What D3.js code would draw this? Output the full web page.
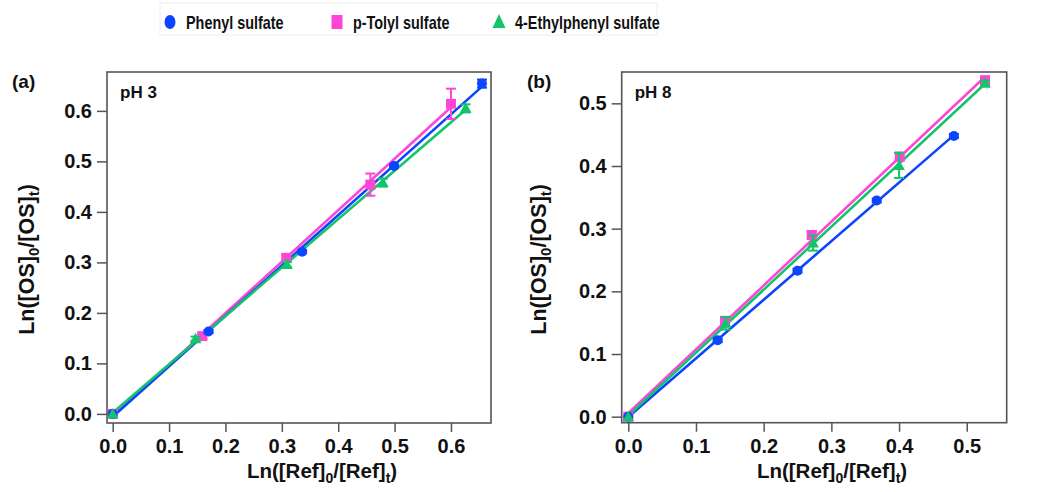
<!DOCTYPE html>
<html><head><meta charset="utf-8">
<script src="https://cdn.jsdelivr.net/npm/d3@7"></script>
<style>
body{margin:0;background:#fff;}
svg{display:block;font-family:"Liberation Sans",Arial,sans-serif;font-weight:bold;}
</style></head>
<body><svg id="c" width="1039" height="492"></svg>
<script>
// ---- data ----
const seriesNames = ["Phenyl sulfate", "p-Tolyl sulfate", "4-Ethylphenyl sulfate"];
const seriesColors = ["#0b45ff", "#ff45d6", "#12c46a"];
const seriesShapes = ["circle", "square", "triangle"];

// panel (a) pH 3
const phenylA_x = [0, 0.170, 0.336, 0.499, 0.655];
const phenylA_y = [0, 0.163, 0.321, 0.491, 0.654];
const phenylA_e = [0, 0.003, 0.003, 0.003, 0.008];
const tolylA_x  = [0, 0.159, 0.308, 0.457, 0.600];
const tolylA_y  = [0, 0.154, 0.309, 0.454, 0.614];
const tolylA_e  = [0, 0.005, 0.005, 0.022, 0.030];
const ethylA_x  = [0, 0.147, 0.309, 0.479, 0.626];
const ethylA_y  = [0, 0.149, 0.296, 0.458, 0.605];
const ethylA_e  = [0, 0.004, 0.005, 0.008, 0.008];

// panel (b) pH 8
const phenylB_x = [0, 0.132, 0.250, 0.367, 0.481];
const phenylB_y = [0, 0.122, 0.233, 0.345, 0.448];
const phenylB_e = [0, 0.003, 0.003, 0.003, 0.003];
const tolylB_x  = [0, 0.143, 0.271, 0.401, 0.527];
const tolylB_y  = [0, 0.153, 0.290, 0.415, 0.537];
const tolylB_e  = [0, 0.004, 0.006, 0.006, 0.003];
const ethylB_x  = [0, 0.144, 0.273, 0.400, 0.527];
const ethylB_y  = [0, 0.149, 0.277, 0.401, 0.532];
const ethylB_e  = [0, 0.010, 0.012, 0.020, 0.004];

const xTicksA = [0, 0.1, 0.2, 0.3, 0.4, 0.5, 0.6];
const yTicksA = [0, 0.1, 0.2, 0.3, 0.4, 0.5, 0.6];
const xTicksB = [0, 0.1, 0.2, 0.3, 0.4, 0.5];
const yTicksB = [0, 0.1, 0.2, 0.3, 0.4, 0.5];
const xDomainA = [-0.0101, 0.671], yDomainA = [-0.018, 0.677];
const xDomainB = [-0.0097, 0.559], yDomainB = [-0.0096, 0.55];

const svg = d3.select("#c");

function zip(xs, ys, es){ return xs.map((x,i)=>({x, y:ys[i], e:es[i]})); }
function fit(pts){
  const mx = d3.mean(pts, d=>d.x), my = d3.mean(pts, d=>d.y);
  const sxy = d3.sum(pts, d=>(d.x-mx)*(d.y-my)), sxx = d3.sum(pts, d=>(d.x-mx)*(d.x-mx));
  const b = sxy/sxx, a = my - b*mx;
  return x => a + b*x;
}
function marker(g, shape, color, cx, cy, s){
  if (shape === "circle") g.append("circle").attr("cx", cx).attr("cy", cy).attr("r", s*0.5).attr("fill", color);
  else if (shape === "square") g.append("rect").attr("x", cx-s*0.5).attr("y", cy-s*0.5).attr("width", s).attr("height", s).attr("fill", color);
  else g.append("path").attr("d", `M${cx},${cy-s*0.6}L${cx+s*0.58},${cy+s*0.45}L${cx-s*0.58},${cy+s*0.45}Z`).attr("fill", color);
}

function panel(cfg){
  const x = d3.scaleLinear().domain(cfg.xDomain).range([cfg.left, cfg.right]);
  const y = d3.scaleLinear().domain(cfg.yDomain).range([cfg.bottom, cfg.top]);
  const g = svg.append("g");
  const xa = g.append("g").attr("transform", `translate(0,${cfg.bottom})`)
    .call(d3.axisBottom(x).tickValues(cfg.xTicks).tickFormat(d3.format(".1f")).tickSize(9).tickPadding(7));
  const ya = g.append("g").attr("transform", `translate(${cfg.left},0)`)
    .call(d3.axisLeft(y).tickValues(cfg.yTicks).tickFormat(d3.format(".1f")).tickSize(10).tickPadding(5));
  [xa, ya].forEach(a => {
    a.select(".domain").remove();
    a.selectAll("line").attr("stroke", "#555").attr("stroke-width", 1.5);
    a.selectAll("text").attr("font-size", 20).attr("font-weight", "bold").attr("fill", "#111")
      .attr("font-family", "'Liberation Sans',Arial,sans-serif");
  });
  g.append("rect").attr("x", cfg.left).attr("y", cfg.top)
    .attr("width", cfg.right-cfg.left).attr("height", cfg.bottom-cfg.top)
    .attr("fill", "none").attr("stroke", "#555").attr("stroke-width", 1.6);
  const order = [1, 0, 2];
  order.forEach(i => {
    const pts = cfg.series[i];
    const f = fit(pts);
    const x0 = d3.min(pts, d=>d.x), x1 = d3.max(pts, d=>d.x);
    g.append("line").attr("x1", x(x0)).attr("y1", y(f(x0))).attr("x2", x(x1)).attr("y2", y(f(x1)))
      .attr("stroke", seriesColors[i]).attr("stroke-width", 2.6);
  });
  order.forEach(i => {
    const pts = cfg.series[i];
    pts.forEach(d => {
      if (d.e > 0) {
        const cx = x(d.x), yt = y(d.y + d.e), yb = y(d.y - d.e);
        g.append("line").attr("x1", cx).attr("x2", cx).attr("y1", yt).attr("y2", yb)
          .attr("stroke", seriesColors[i]).attr("stroke-width", 2);
        [yt, yb].forEach(yy => g.append("line").attr("x1", cx-5).attr("x2", cx+5).attr("y1", yy).attr("y2", yy)
          .attr("stroke", seriesColors[i]).attr("stroke-width", 2));
      }
      marker(g, seriesShapes[i], seriesColors[i], x(d.x), y(d.y), 10);
    });
  });
  g.append("text").attr("x", cfg.tagX).attr("y", 88).attr("font-size", 19).attr("fill", "#111").text(cfg.tag);
  g.append("text").attr("x", cfg.left+13).attr("y", 98).attr("font-size", 17).attr("fill", "#111").text(cfg.ph);
  const xt = g.append("text").attr("x", cfg.xTitleX).attr("y", 478).attr("text-anchor", "middle")
    .attr("font-size", 20.5).attr("fill", "#111");
  xt.append("tspan").text("Ln([Ref]");
  xt.append("tspan").attr("font-size", 14).attr("dy", 5).text("0");
  xt.append("tspan").attr("dy", -5).text("/[Ref]");
  xt.append("tspan").attr("font-size", 14).attr("dy", 5).text("t");
  xt.append("tspan").attr("dy", -5).text(")");
  const yt = g.append("text").attr("transform", `translate(${cfg.yTitleX},${(cfg.top+cfg.bottom)/2 + 12}) rotate(-90)`)
    .attr("text-anchor", "middle").attr("font-size", 21.5).attr("fill", "#111");
  yt.append("tspan").text("Ln([OS]");
  yt.append("tspan").attr("font-size", 15).attr("dy", 5).text("0");
  yt.append("tspan").attr("dy", -5).text("/[OS]");
  yt.append("tspan").attr("font-size", 15).attr("dy", 5).text("t");
  yt.append("tspan").attr("dy", -5).text(")");
}

panel({
  left: 107, right: 491, top: 72, bottom: 423,
  xDomain: xDomainA, yDomain: yDomainA, xTicks: xTicksA, yTicks: yTicksA,
  series: [zip(phenylA_x, phenylA_y, phenylA_e), zip(tolylA_x, tolylA_y, tolylA_e), zip(ethylA_x, ethylA_y, ethylA_e)],
  tag: "(a)", tagX: 12, ph: "pH 3", xTitleX: 322, yTitleX: 34
});
panel({
  left: 621.7, right: 1006.7, top: 72, bottom: 422.7,
  xDomain: xDomainB, yDomain: yDomainB, xTicks: xTicksB, yTicks: yTicksB,
  series: [zip(phenylB_x, phenylB_y, phenylB_e), zip(tolylB_x, tolylB_y, tolylB_e), zip(ethylB_x, ethylB_y, ethylB_e)],
  tag: "(b)", tagX: 527, ph: "pH 8", xTitleX: 832, yTitleX: 546
});

// legend
const lg = svg.append("g");
lg.append("rect").attr("x", 160).attr("y", 3).attr("width", 497).attr("height", 32)
  .attr("fill", "none").attr("stroke", "#eee").attr("stroke-width", 1);
const legX = [170, 337, 499];
seriesNames.forEach((n, i) => {
  const cx = legX[i], cy = 22;
  if (seriesShapes[i] === "circle") lg.append("ellipse").attr("cx", cx).attr("cy", cy).attr("rx", 5.5).attr("ry", 7).attr("fill", seriesColors[i]);
  else if (seriesShapes[i] === "square") lg.append("rect").attr("x", cx-5.5).attr("y", cy-7).attr("width", 11).attr("height", 14).attr("fill", seriesColors[i]);
  else lg.append("path").attr("d", `M${cx},${cy-8}L${cx+6.5},${cy+6}L${cx-6.5},${cy+6}Z`).attr("fill", seriesColors[i]);
  lg.append("text").attr("transform", `translate(${cx+16},${cy+6.5}) scale(0.8,1)`)
    .attr("font-size", 18).attr("fill", "#111").text(n);
});
</script></body></html>
